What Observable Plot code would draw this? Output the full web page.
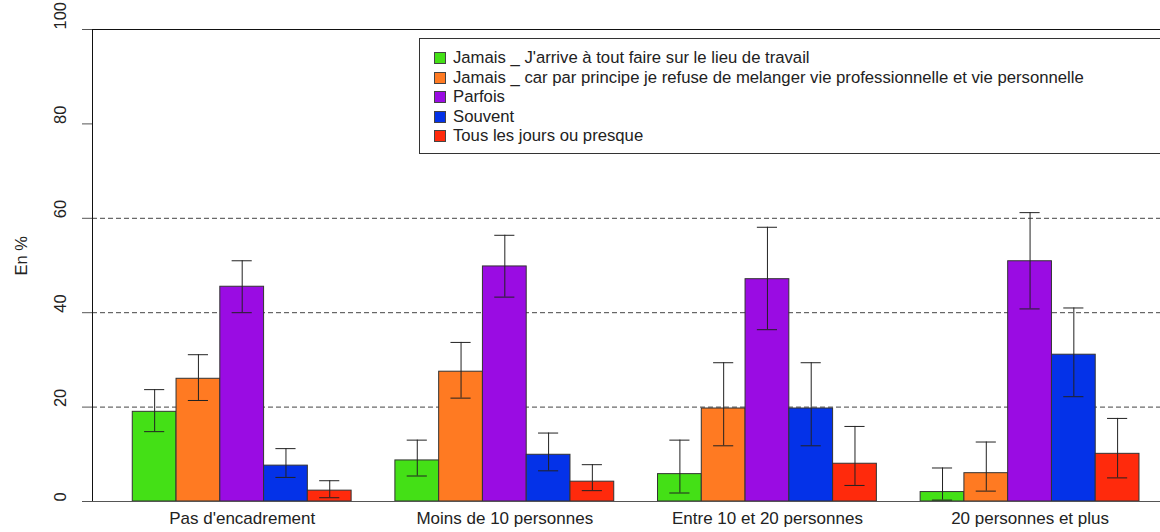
<!DOCTYPE html>
<html>
<head>
<meta charset="utf-8">
<script src="https://cdn.jsdelivr.net/npm/d3@7"></script>
<script src="https://cdn.jsdelivr.net/npm/@observablehq/plot@0.6"></script>
<style>
  html, body { margin: 0; padding: 0; background: #fff; overflow: hidden; }
  #wrap { position: relative; width: 1160px; height: 532px; overflow: hidden; }
  #legend { position: absolute; left: 419px; top: 38px; width: 780px; height: 116px;
    border: 1px solid #333; box-sizing: border-box; font-family: "Liberation Sans", Arial, sans-serif;
    font-size: 16.7px; color: #222; }
  .item { position: absolute; left: 14px; height: 20px; line-height: 20px; white-space: nowrap; }
  .sw { display: inline-block; width: 12px; height: 12px; border: 1px solid #444; box-sizing: border-box;
    vertical-align: -1px; margin-right: 7px; }
</style>
</head>
<body>
<div id="wrap"></div>
<script>
const groups = ["Pas d'encadrement", "Moins de 10 personnes", "Entre 10 et 20 personnes", "20 personnes et plus"];
const series = [
  "Jamais _ J'arrive à tout faire sur le lieu de travail",
  "Jamais _ car par principe je refuse de melanger vie professionnelle et vie personnelle",
  "Parfois",
  "Souvent",
  "Tous les jours ou presque"
];
const colors = ["#44E016", "#FF7A22", "#9A0CE3", "#0432E8", "#FF2A0C"];

const jamaisTravail  = [19.0, 8.7, 5.8, 2.0];
const jamaisPrincipe = [26.0, 27.5, 19.7, 6.0];
const parfois        = [45.5, 49.8, 47.1, 50.9];
const souvent        = [7.6, 9.9, 19.7, 31.1];
const tousLesJours   = [2.3, 4.2, 8.0, 10.1];

const lowJamaisTravail  = [14.8, 5.4, 1.8, 0.3];
const highJamaisTravail = [23.7, 13.0, 13.0, 7.1];
const lowJamaisPrincipe  = [21.4, 21.9, 11.8, 2.2];
const highJamaisPrincipe = [31.1, 33.7, 29.4, 12.6];
const lowParfois  = [40.0, 43.3, 36.4, 40.8];
const highParfois = [51.0, 56.4, 58.1, 61.2];
const lowSouvent  = [5.1, 6.5, 11.8, 22.2];
const highSouvent = [11.2, 14.5, 29.4, 41.0];
const lowTous  = [0.8, 2.3, 3.4, 5.0];
const highTous = [4.4, 7.8, 15.9, 17.6];

const yTicks = [0, 20, 40, 60, 80, 100];
const gridLines = [20, 40, 60];

const values = [jamaisTravail, jamaisPrincipe, parfois, souvent, tousLesJours];
const lows = [lowJamaisTravail, lowJamaisPrincipe, lowParfois, lowSouvent, lowTous];
const highs = [highJamaisTravail, highJamaisPrincipe, highParfois, highSouvent, highTous];

// R barplot(beside=TRUE) layout: each group preceded by one bar-width gap
const step = series.length + 1;
const rows = [];
groups.forEach((g, gi) => {
  series.forEach((s, si) => {
    const left = gi * step + 1 + si;
    rows.push({group: g, series: s, x1: left, x2: left + 1, xm: left + 0.5,
      value: values[si][gi], low: lows[si][gi], high: highs[si][gi]});
  });
});
const groupCenters = groups.map((g, gi) => ({group: g, x: gi * step + 1 + series.length / 2}));
const xDomain = [0.08, 24.48];
const capHalf = 0.23;

const font = "'Liberation Sans', Arial, sans-serif";

const chart = Plot.plot({
  width: 1160,
  height: 532,
  marginTop: 29,
  marginBottom: 31,
  marginLeft: 92,
  marginRight: 0,
  style: {fontFamily: font, fontSize: "16px", color: "#222", background: "#fff"},
  x: {type: "linear", domain: xDomain, axis: null},
  y: {domain: [0, 100], axis: null},
  color: {domain: series, range: colors},
  marks: [
    Plot.ruleY(gridLines, {stroke: "#444", strokeDasharray: "5,3", strokeWidth: 1}),
    Plot.ruleY([100], {stroke: "#111", strokeWidth: 1}),
    Plot.rectY(rows, {x1: "x1", x2: "x2", y1: 0, y2: "value", fill: "series", stroke: "#333", strokeWidth: 1}),
    Plot.ruleX(rows, {x: "xm", y1: "low", y2: "high", stroke: "#222", strokeWidth: 1}),
    Plot.ruleY(rows, {y: "low", x1: d => d.xm - capHalf, x2: d => d.xm + capHalf, stroke: "#222", strokeWidth: 1}),
    Plot.ruleY(rows, {y: "high", x1: d => d.xm - capHalf, x2: d => d.xm + capHalf, stroke: "#222", strokeWidth: 1}),
    Plot.ruleY([0], {stroke: "#555", strokeWidth: 1}),
    Plot.ruleX([xDomain[0]], {y1: 0, y2: 100, stroke: "#111", strokeWidth: 1}),
    Plot.axisY({ticks: yTicks, tickSize: 10, tickFormat: () => "", stroke: "#555"}),
    Plot.text(yTicks, {y: d => d, frameAnchor: "left", dx: -32, rotate: -90, text: d => String(d), fontSize: 16.5, fill: "#222"}),
    Plot.text(["En %"], {frameAnchor: "left", dx: -71, dy: 10, rotate: -90, fontSize: 16.5, fill: "#222"}),
    Plot.text(groupCenters, {x: "x", frameAnchor: "bottom", dy: 22, text: "group", fontSize: 17, fill: "#222"})
  ]
});
const wrap = document.getElementById("wrap");
wrap.appendChild(chart);

const legend = document.createElement("div");
legend.id = "legend";
series.forEach((s, i) => {
  const item = document.createElement("div");
  item.className = "item";
  item.style.top = (9 + i * 19.6) + "px";
  const sw = document.createElement("span");
  sw.className = "sw";
  sw.style.background = colors[i];
  item.appendChild(sw);
  item.appendChild(document.createTextNode(s));
  legend.appendChild(item);
});
wrap.appendChild(legend);
</script>
</body>
</html>
